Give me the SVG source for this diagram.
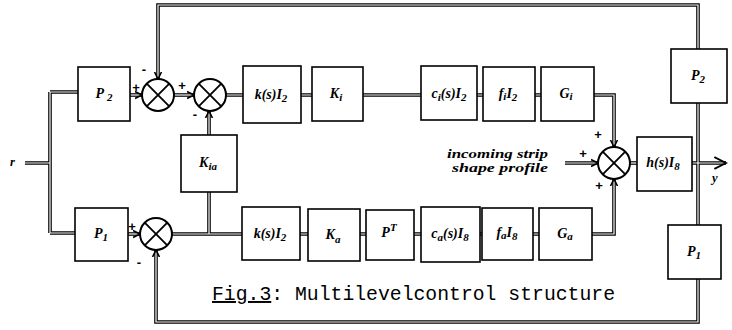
<svg xmlns="http://www.w3.org/2000/svg" width="732" height="330" viewBox="0 0 732 330">
<style>
.box{fill:#fff;stroke:#000;stroke-width:1.6}
.sc{fill:#fff;stroke:#000;stroke-width:2}
.sx{stroke:#000;stroke-width:1.8;fill:none}
.co{fill:none;stroke:#000;stroke-width:3.6}
.ci{fill:none;stroke:#fff;stroke-width:1.2}
.lbl{font-family:"Liberation Serif",serif;font-style:italic;font-weight:bold;font-size:14px;text-anchor:middle}
.sg{font-family:"Liberation Sans",sans-serif;font-weight:bold;font-size:13px;text-anchor:middle}
.it{font-family:"Liberation Serif",serif;font-style:italic;font-weight:bold;font-size:12.5px}
.cap{font-family:"Liberation Mono",monospace;font-size:19.5px}
</style>
<defs>
<marker id="ah" markerUnits="userSpaceOnUse" markerWidth="10" markerHeight="10" refX="7" refY="4" orient="auto" viewBox="0 0 10 8">
<path d="M0,0.5 L7,4 L0,7.5" fill="none" stroke="#000" stroke-width="1.6"/>
</marker>
<marker id="ah2" markerUnits="userSpaceOnUse" markerWidth="14" markerHeight="14" refX="10" refY="6" orient="auto" viewBox="0 0 12 12">
<path d="M0,1 L10,6 L0,11" fill="none" stroke="#000" stroke-width="1.6"/>
</marker>
</defs>
<rect width="732" height="330" fill="#fff"/>
<g id="connectors">
<g class="co">
<path d="M25,163 H50 M50,92 V233 M50,92 H78 M50,233 H75"/>
<path d="M130,95 H142"/>
<path d="M174,95 H194"/>
<path d="M226,95 H243 M301,95 H312 M363,95 H421 M477,95 H483 M535,95 H541"/>
<path d="M594,95 H614 V147"/>
<path d="M565,163 H598"/>
<path d="M592,234 H614 V179"/>
<path d="M630,163 H637"/>
<path d="M692,163 H726"/>
<path d="M698,49 V5 H158 V79"/>
<path d="M698,103 V225"/>
<path d="M698,279 V322 H156 V250"/>
<path d="M128,234 H140"/>
<path d="M172,234 H242 M209,192 V234"/>
<path d="M209,135 V111"/>
<path d="M300,234 H308 M360,234 H366 M414,234 H421 M480,234 H482 M533,234 H539"/>
</g>
<g class="ci">
<path d="M25,163 H50 M50,92 V233 M50,92 H78 M50,233 H75"/>
<path d="M130,95 H142" marker-end="url(#ah)"/>
<path d="M174,95 H194" marker-end="url(#ah)"/>
<path d="M226,95 H243 M301,95 H312 M363,95 H421 M477,95 H483 M535,95 H541"/>
<path d="M594,95 H614 V147" marker-end="url(#ah)"/>
<path d="M565,163 H598" marker-end="url(#ah)"/>
<path d="M592,234 H614 V179" marker-end="url(#ah)"/>
<path d="M630,163 H637"/>
<path d="M692,163 H726" marker-end="url(#ah2)"/>
<path d="M698,49 V5 H158 V79" marker-end="url(#ah)"/>
<path d="M698,103 V225"/>
<path d="M698,279 V322 H156 V250" marker-end="url(#ah)"/>
<path d="M128,234 H140" marker-end="url(#ah)"/>
<path d="M172,234 H242 M209,192 V234"/>
<path d="M209,135 V111" marker-end="url(#ah)"/>
<path d="M300,234 H308 M360,234 H366 M414,234 H421 M480,234 H482 M533,234 H539"/>
</g>
</g>
<g id="P2L"><rect class="box" x="78" y="67" width="52" height="54"/><text class="lbl" x="104" y="98">P <tspan font-size="11" dy="3">2</tspan></text></g>
<g id="P1L"><rect class="box" x="75" y="208" width="53" height="53"/><text class="lbl" x="101" y="238">P<tspan font-size="11" dy="3">1</tspan></text></g>
<g id="sum1"><circle class="sc" cx="158" cy="95" r="16"/><path class="sx" d="M146.7,83.7 L169.3,106.3 M169.3,83.7 L146.7,106.3"/></g>
<g id="sum2"><circle class="sc" cx="210" cy="95" r="16"/><path class="sx" d="M198.7,83.7 L221.3,106.3 M221.3,83.7 L198.7,106.3"/></g>
<g id="sum4"><circle class="sc" cx="156" cy="234" r="16"/><path class="sx" d="M144.7,222.7 L167.3,245.3 M167.3,222.7 L144.7,245.3"/></g>
<g id="sum3"><circle class="sc" cx="614" cy="163" r="16"/><path class="sx" d="M602.7,151.7 L625.3,174.3 M625.3,151.7 L602.7,174.3"/></g>
<g id="kI2top"><rect class="box" x="243" y="66" width="58" height="57"/><text class="lbl" x="271" y="99">k(s)I<tspan font-size="11" dy="3">2</tspan></text></g>
<g id="Ki"><rect class="box" x="312" y="67" width="51" height="54"/><text class="lbl" x="336" y="98">K<tspan font-size="11" dy="3">i</tspan></text></g>
<g id="ciI2"><rect class="box" x="421" y="66" width="56" height="54"/><text class="lbl" x="449" y="98">c<tspan font-size="11" dy="3">i</tspan><tspan dy="-3">(s)I</tspan><tspan font-size="11" dy="3">2</tspan></text></g>
<g id="fiI2"><rect class="box" x="483" y="67" width="52" height="54"/><text class="lbl" x="508" y="98">f<tspan font-size="11" dy="2">i</tspan><tspan dy="-2">I</tspan><tspan font-size="11" dy="3">2</tspan></text></g>
<g id="Gi"><rect class="box" x="541" y="67" width="53" height="54"/><text class="lbl" x="566" y="98">G<tspan font-size="11" dy="2">i</tspan></text></g>
<g id="Kia"><rect class="box" x="181" y="135" width="56" height="57"/><text class="lbl" x="208" y="167">K<tspan font-size="11" dy="3">ia</tspan></text></g>
<g id="hI8"><rect class="box" x="637" y="137" width="55" height="54"/><text class="lbl" x="663" y="167">h(s)I<tspan font-size="11" dy="3">8</tspan></text></g>
<g id="P2R"><rect class="box" x="671" y="49" width="56" height="54"/><text class="lbl" x="698" y="80">P<tspan font-size="11" dy="3">2</tspan></text></g>
<g id="P1R"><rect class="box" x="668" y="225" width="53" height="54"/><text class="lbl" x="694" y="256">P<tspan font-size="11" dy="3">1</tspan></text></g>
<g id="kI2bot"><rect class="box" x="242" y="207" width="58" height="53"/><text class="lbl" x="270" y="238">k(s)I<tspan font-size="11" dy="3">2</tspan></text></g>
<g id="Ka"><rect class="box" x="308" y="209" width="52" height="52"/><text class="lbl" x="333" y="239">K<tspan font-size="11" dy="4">a</tspan></text></g>
<g id="PT"><rect class="box" x="366" y="210" width="48" height="50"/><text class="lbl" x="389" y="237">P<tspan font-size="11" dy="-6">T</tspan></text></g>
<g id="caI8"><rect class="box" x="421" y="207" width="59" height="55"/><text class="lbl" x="450" y="238">c<tspan font-size="11" dy="3">a</tspan><tspan dy="-3">(s)I</tspan><tspan font-size="11" dy="3">8</tspan></text></g>
<g id="faI8"><rect class="box" x="482" y="208" width="51" height="52"/><text class="lbl" x="507" y="237">f<tspan font-size="11" dy="2">a</tspan><tspan dy="-2">I</tspan><tspan font-size="11" dy="3">8</tspan></text></g>
<g id="Ga"><rect class="box" x="539" y="208" width="53" height="52"/><text class="lbl" x="565" y="238">G<tspan font-size="11" dy="2">a</tspan></text></g>
<g id="signs">
<text class="sg" x="136" y="92">+</text>
<text class="sg" x="144" y="74">-</text>
<text class="sg" x="182" y="90">+</text>
<text class="sg" x="195" y="119">-</text>
<text class="sg" x="132" y="231">+</text>
<text class="sg" x="139" y="267">-</text>
<text class="sg" x="598" y="139">+</text>
<text class="sg" x="583" y="158">+</text>
<text class="sg" x="599" y="190">+</text>
</g>
<g id="labels">
<text class="it" x="10" y="166" font-size="13">r</text>
<text class="it" x="712" y="182" font-size="13">y</text>
<text class="it" x="447" y="158" textLength="101" lengthAdjust="spacingAndGlyphs">incoming strip</text>
<text class="it" x="452" y="172" textLength="96" lengthAdjust="spacingAndGlyphs">shape profile</text>
<text class="cap" x="212" y="300" textLength="403" lengthAdjust="spacingAndGlyphs"><tspan text-decoration="underline">Fig.3</tspan>: Multilevelcontrol structure</text>
</g>
</svg>
